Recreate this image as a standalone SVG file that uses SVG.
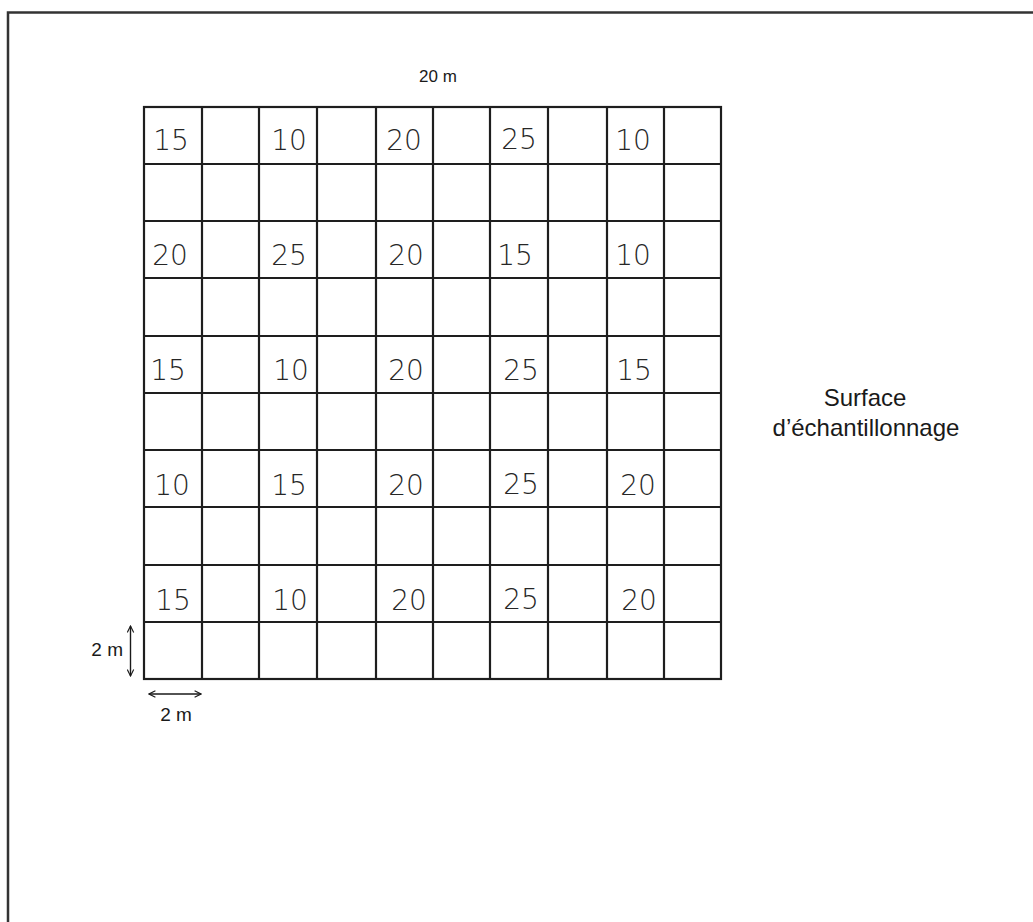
<svg xmlns="http://www.w3.org/2000/svg" width="1033" height="922" viewBox="0 0 1033 922">
<style>
.frame{fill:none;stroke:#333;stroke-width:2.5}
.grid{fill:none;stroke:#1e1e1e;stroke-width:2.2}
.lbl{font-family:"Liberation Sans",Arial,sans-serif;fill:#1a1a1a}
.num{font-family:"DejaVu Sans","Liberation Sans",sans-serif;font-size:28px;font-weight:300;fill:#262626;text-anchor:middle}
.arr{fill:none;stroke:#1a1a1a;stroke-width:1.4}
</style>
<defs>
<marker id="ah" viewBox="0 0 10 10" refX="9" refY="5" markerWidth="8" markerHeight="8" orient="auto-start-reverse" markerUnits="userSpaceOnUse">
<path d="M1,1 L9,5 L1,9" fill="none" stroke="#1a1a1a" stroke-width="1.4"/>
</marker>
</defs>
<rect width="1033" height="922" fill="#fff"/>
<path class="frame" d="M8,925 V12.5 H1036"/>
<g id="grid">
<rect class="grid" x="144" y="107" width="577" height="572"/>
<path class="grid" d="M202,107V679 M259,107V679 M317,107V679 M376,107V679 M433,107V679 M490,107V679 M548,107V679 M607,107V679 M664,107V679
M144,164H721 M144,221H721 M144,278H721 M144,336H721 M144,393H721 M144,450H721 M144,507H721 M144,565H721 M144,622H721"/>
</g>
<g id="numbers">
<text class="num" x="171" y="150">15</text>
<text class="num" x="289" y="150">10</text>
<text class="num" x="404" y="150">20</text>
<text class="num" x="519" y="149">25</text>
<text class="num" x="633" y="150">10</text>
<text class="num" x="170" y="265">20</text>
<text class="num" x="289" y="265">25</text>
<text class="num" x="406" y="265">20</text>
<text class="num" x="515" y="265">15</text>
<text class="num" x="633" y="265">10</text>
<text class="num" x="168" y="380">15</text>
<text class="num" x="291" y="380">10</text>
<text class="num" x="406" y="380">20</text>
<text class="num" x="521" y="380">25</text>
<text class="num" x="634" y="380">15</text>
<text class="num" x="172" y="495">10</text>
<text class="num" x="289" y="495">15</text>
<text class="num" x="406" y="495">20</text>
<text class="num" x="521" y="494">25</text>
<text class="num" x="638" y="495">20</text>
<text class="num" x="173" y="610">15</text>
<text class="num" x="290" y="610">10</text>
<text class="num" x="409" y="610">20</text>
<text class="num" x="521" y="609">25</text>
<text class="num" x="639" y="610">20</text>
</g>
<g id="labels">
<text class="lbl" x="438" y="82" font-size="17" text-anchor="middle">20 m</text>
<text class="lbl" x="865" y="406" font-size="24" text-anchor="middle">Surface</text>
<text class="lbl" x="866" y="436" font-size="24" text-anchor="middle">d’échantillonnage</text>
<text class="lbl" x="123" y="656" font-size="19" text-anchor="end">2 m</text>
<text class="lbl" x="176" y="721" font-size="19" text-anchor="middle">2 m</text>
</g>
<g id="connectors">
<line class="arr" x1="130.5" y1="626" x2="130.5" y2="676" marker-start="url(#ah)" marker-end="url(#ah)"/>
<line class="arr" x1="149" y1="694" x2="201" y2="694" marker-start="url(#ah)" marker-end="url(#ah)"/>
</g>
</svg>
